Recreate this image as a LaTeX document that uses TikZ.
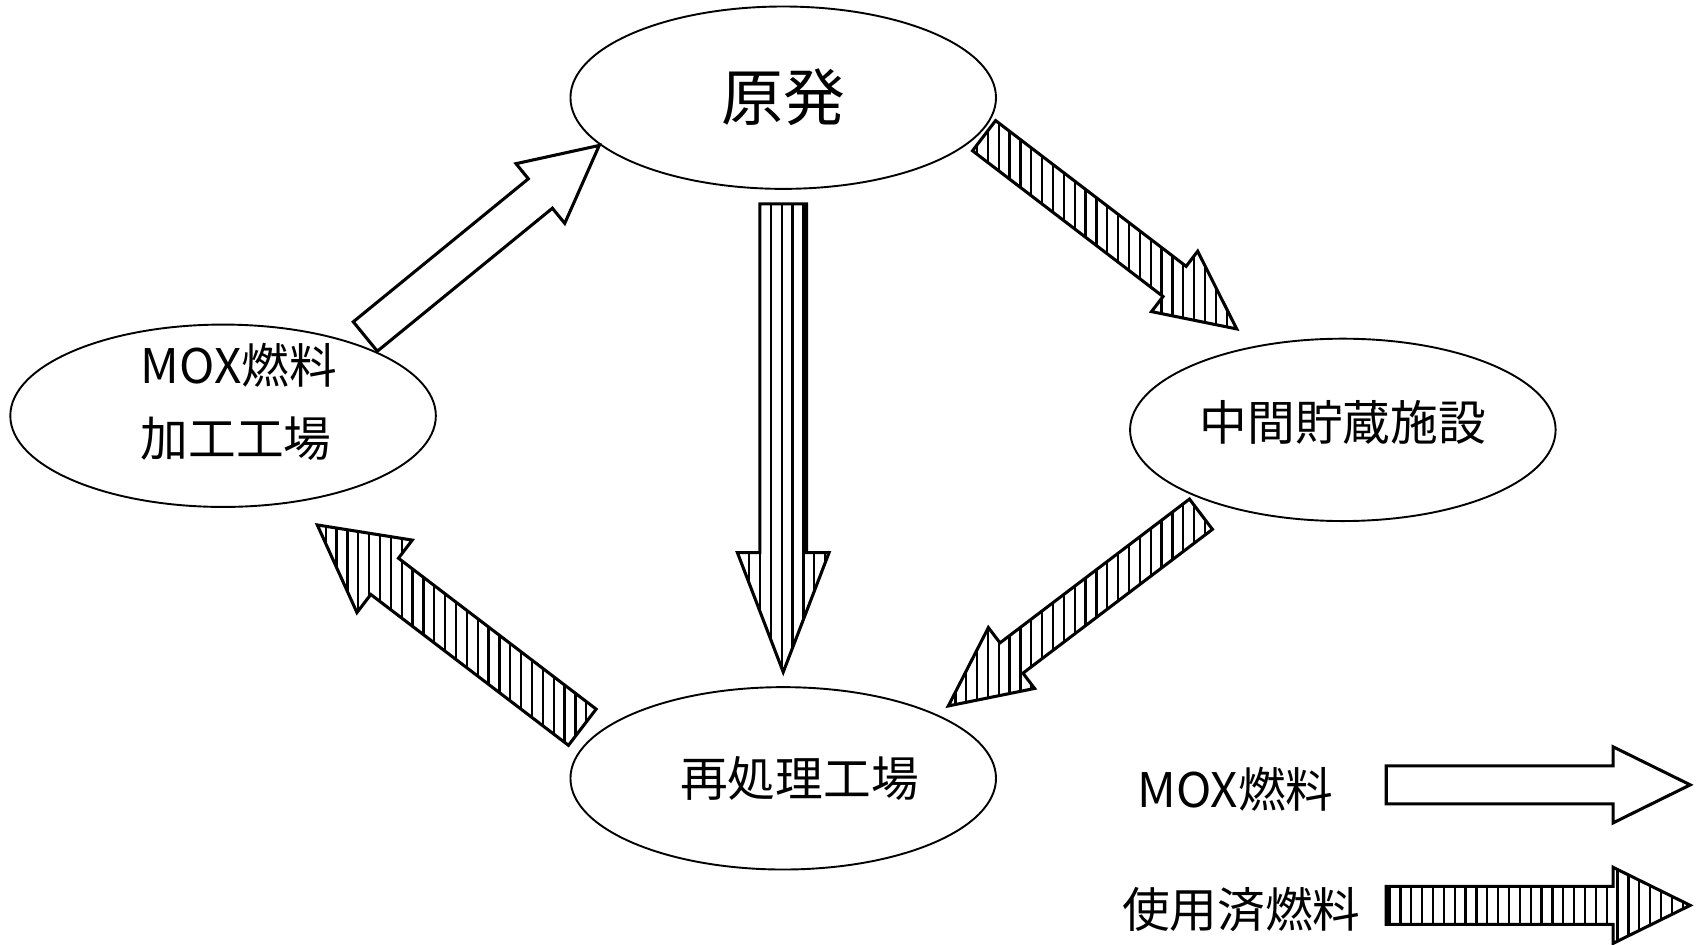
\documentclass[tikz,border=0pt]{standalone}
\usepackage{fontspec}
\setmainfont{Noto Sans CJK JP}
\usetikzlibrary{shapes.geometric,patterns.meta,calc}

\newcommand{\blockarrow}[6]{%
    \coordinate (ba) at ($(#3)!#5!(#2)$);
    \draw[#1]($(#2)!#4!90:(#3)$)--($(ba)!#4!90:(#3)$)--($(ba)!#6!90:(#3)$)--(#3)
        --($(ba)!#6!-90:(#3)$)--($(ba)!#4!-90:(#3)$)--($(#2)!#4!-90:(#3)$)--cycle;
}

\begin{document}
\begin{tikzpicture}[scale=1.0,
        site/.style={draw,line width=0.5pt,ellipse,minimum width=3.92cm,minimum height=1.68cm,inner sep=0pt,font=\fontsize{12.5}{19}\selectfont},
        keytext/.style={font=\fontsize{12.5}{15}\selectfont,inner sep=0pt},
        moxflow/.style={draw,line width=0.8pt,fill=white,line join=miter},
        spentflow/.style={moxflow,pattern={Lines[angle=90,distance=0.1cm,line width=0.6pt]}}]
        \useasboundingbox(0,0)rectangle(15.66,-8.70);
        \node[site,font=\fontsize{16.2}{20}\selectfont](plant)at(7.215,-0.90){原発};
        \node[site,align=left,text depth=0.29cm,inner ysep=-0.15cm](mox)at(2.055,-3.83){\hspace*{0.29cm}MOX燃料\\\hspace*{0.29cm}加工工場};
        \node[site,text depth=0.17cm](storage)at(12.37,-3.96){中間貯蔵施設};
        \node[site](reproc)at(7.215,-7.17){\hspace*{0.3cm}再処理工場};
        \node[keytext](keymox)at(11.38,-7.27){MOX燃料};
        \node[keytext](keyspent)at(11.435,-8.38){使用済燃料};
        \coordinate(m2p-s)at(3.365,-3.10);
        \coordinate(m2p-t)at(5.52,-1.34);
        \coordinate(p2s-s)at(9.065,-1.25);
        \coordinate(p2s-t)at(11.392,-3.03);
        \coordinate(p2r-s)at($(plant.south)+(0,-0.13)$);
        \coordinate(p2r-t)at($(reproc.north)+(0,0.13)$);
        \coordinate(s2r-s)at(11.063,-4.737);
        \coordinate(s2r-t)at(8.736,-6.503);
        \coordinate(r2m-s)at(5.364,-6.699);
        \coordinate(r2m-t)at(2.923,-4.836);
        \coordinate(keymox-s)at(12.77,-7.23);
        \coordinate(keymox-t)at(15.57,-7.23);
        \coordinate(keyspent-s)at(12.77,-8.34);
        \coordinate(keyspent-t)at(15.57,-8.34);
        \blockarrow{moxflow}{m2p-s}{m2p-t}{0.175cm}{0.70cm}{0.355cm}
        \blockarrow{spentflow}{p2s-s}{p2s-t}{0.175cm}{0.72cm}{0.35cm}
        \blockarrow{spentflow}{p2r-s}{p2r-t}{0.215cm}{1.10cm}{0.422cm}
        \blockarrow{spentflow}{s2r-s}{s2r-t}{0.175cm}{0.73cm}{0.352cm}
        \blockarrow{spentflow}{r2m-s}{r2m-t}{0.21cm}{0.78cm}{0.42cm}
        \blockarrow{moxflow}{keymox-s}{keymox-t}{0.175cm}{0.71cm}{0.35cm}
        \blockarrow{spentflow}{keyspent-s}{keyspent-t}{0.175cm}{0.71cm}{0.35cm}
    \end{tikzpicture}
\end{document}
